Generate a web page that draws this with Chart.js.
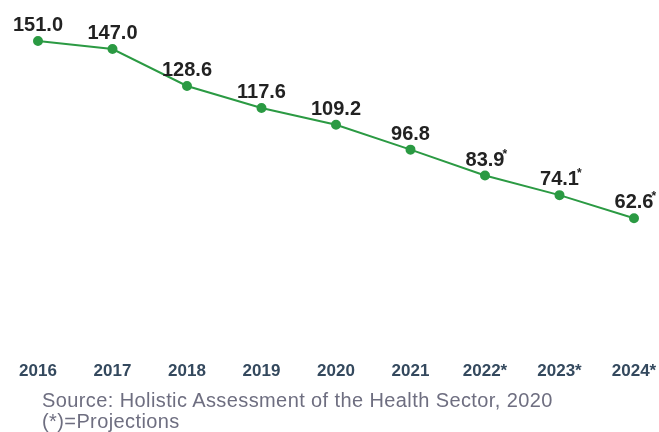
<!DOCTYPE html>
<html>
<head>
<meta charset="utf-8">
<script src="https://cdn.jsdelivr.net/npm/chart.js@4"></script>
<style>
    body { margin: 0; background: #fff; font-family: "Liberation Sans", Arial, sans-serif; }
    #wrap { position: relative; width: 659px; height: 432px; overflow: hidden; }
    #rateChart { position: absolute; left: 0; top: 0; }
    #note { position: absolute; left: 42px; top: 390px; font-size: 20px; line-height: 21px; letter-spacing: 0.4px; color: #6e6e80; }
</style>
</head>
<body>
<div id="wrap">
    <canvas id="rateChart" width="659" height="403"></canvas>
    <div id="note">Source: Holistic Assessment of the Health Sector, 2020<br>(*)=Projections</div>
</div>
<script>
const years = ['2016', '2017', '2018', '2019', '2020', '2021', '2022*', '2023*', '2024*'];
const rates = [151.0, 147.0, 128.6, 117.6, 109.2, 96.8, 83.9, 74.1, 62.6];

// draws the value above each point, projected years get a small raised star
const valueLabels = {
    id: 'valueLabels',
    afterDatasetsDraw(chart) {
        const ctx = chart.ctx;
        const meta = chart.getDatasetMeta(0);
        ctx.save();
        ctx.fillStyle = '#222';
        ctx.textAlign = 'center';
        ctx.textBaseline = 'alphabetic';
        meta.data.forEach((pt, i) => {
            const txt = rates[i].toFixed(1);
            ctx.font = 'bold 20px "Liberation Sans", Arial, sans-serif';
            const w = ctx.measureText(txt).width;
            const base = pt.y - 10;
            ctx.fillText(txt, pt.x, base);
            if (years[i].endsWith('*')) {
                ctx.font = 'bold 12px "Liberation Sans", Arial, sans-serif';
                ctx.textAlign = 'left';
                ctx.fillText('*', pt.x + w / 2 - 2, base - 8);
                ctx.textAlign = 'center';
            }
        });
        ctx.restore();
    }
};

new Chart(document.getElementById('rateChart').getContext('2d'), {
    type: 'line',
    data: {
        labels: years,
        datasets: [{
            data: rates,
            borderColor: '#2b9a43',
            backgroundColor: '#2b9a43',
            borderWidth: 2,
            pointRadius: 4,
            pointHoverRadius: 4,
            tension: 0,
            clip: false
        }]
    },
    options: {
        responsive: false,
        animation: false,
        layout: { padding: { left: 38, right: 25, top: 0, bottom: 3 } },
        scales: {
            x: {
                grid: { display: false, drawTicks: false },
                border: { display: false },
                // keep the edge labels from squeezing the plot
                afterFit: (scale) => { scale.paddingLeft = 0; scale.paddingRight = 0; },
                ticks: {
                    color: '#34495e',
                    padding: 18,
                    font: { family: '"Liberation Sans", Arial, sans-serif', size: 17, weight: 'bold' }
                }
            },
            y: {
                display: false,
                min: 0,
                max: 168.5
            }
        },
        plugins: {
            legend: { display: false },
            tooltip: { enabled: false }
        }
    },
    plugins: [valueLabels]
});
</script>
</body>
</html>
